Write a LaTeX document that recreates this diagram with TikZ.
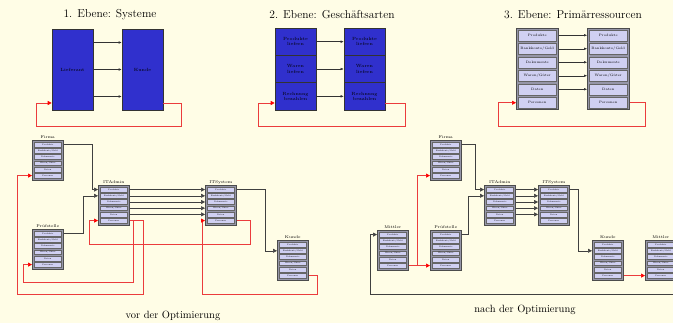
\documentclass[tikz,border=0pt]{standalone}
\usetikzlibrary{arrows.meta,calc}
\definecolor{bgc}{RGB}{255,253,230}
\definecolor{bluebox}{RGB}{48,48,205}
\definecolor{grayframe}{RGB}{150,150,168}
\definecolor{cellc}{RGB}{208,208,242}
\definecolor{redline}{RGB}{235,60,60}
\newcommand{\reslabel}[1]{\ifcase#1\or Produkte\or Bankkonto/Geld\or Dokumente\or Waren/G\"uter\or Daten\or Personen\fi}
% small object box: #1 name, #2 x, #3 y (top-left), #4 title
\newcommand{\objbox}[4]{%
  \node[objframe, anchor=north west] (#1) at (#2,#3) {};
  \node[objtitle, anchor=south] (#1-t) at (#1.north) {#4};
  \foreach \i in {1,...,6}{%
    \node[objcell] (#1-\i) at ($(#1.north)+(0,{1.5+6.2*(\i-0.5)})$) {\reslabel{\i}};
  }%
}
% level-3 resource box: #1 name, #2 x, #3 y
\newcommand{\resbox}[3]{%
  \node[resframe, anchor=north west] (#1) at (#2,#3) {};
  \foreach \i in {1,...,6}{%
    \node[rescell] (#1-\i) at ($(#1.north)+(0,{0.5+13.5*(\i-0.5)})$) {\reslabel{\i}};
  }%
}
\tikzset{
  objframe/.style={draw=black!70, fill=grayframe, minimum width=31pt, minimum height=40pt, inner sep=0pt, line width=0.5pt},
  objtitle/.style={font=\fontsize{4}{4.5}\selectfont, inner sep=0.8pt},
  objcell/.style={draw=black!60, fill=cellc, minimum width=27pt, minimum height=4.8pt, inner sep=0pt, line width=0.3pt, font=\fontsize{2}{2.2}\selectfont},
  resframe/.style={draw=black!70, fill=grayframe, minimum width=42pt, minimum height=81pt, inner sep=0pt, line width=0.5pt},
  rescell/.style={draw=black!60, fill=cellc, minimum width=38pt, minimum height=11pt, inner sep=0pt, line width=0.4pt, font=\fontsize{3.4}{4}\selectfont},
  bluecell/.style={draw=black!80, fill=bluebox, minimum width=41pt, inner sep=0pt, line width=0.6pt, align=center, font=\fontsize{4.5}{5.2}\selectfont},
  title/.style={font=\fontsize{11.5}{13}\selectfont},
  caption/.style={font=\fontsize{10.5}{12}\selectfont},
  conn/.style={draw=black!75, line width=0.5pt, -{Triangle[length=4pt,width=4pt]}},
  redconn/.style={draw=redline, line width=0.7pt, -{Triangle[length=4pt,width=4pt,fill=red,color=red]}},
  thinarrow/.style={draw=black!80, line width=0.4pt, -{Latex[length=3pt,width=2.5pt]}},
}
\begin{document}
\begin{tikzpicture}[x=1pt,y=-1pt]
\fill[bgc] (0,0) rectangle (673,323);
\useasboundingbox (0,0) rectangle (673,323);

% ---------- titles ----------
\node[title] (t1) at (110,15) {1. Ebene: Systeme};
\node[title] (t2) at (332,15) {2. Ebene: Gesch\"aftsarten};
\node[title] (t3) at (573,15) {3. Ebene: Prim\"arressourcen};

% ---------- level 1 ----------
\node[bluecell, minimum height=81pt] (L1a) at (72.5,69.5) {Lieferant};
\node[bluecell, minimum height=81pt] (L1b) at (142.5,69.5) {Kunde};
\foreach \s in {27,0,-27}{%
  \draw[thinarrow] ([yshift=\s]L1a.east) -- ([yshift=\s]L1b.west);
}
\draw[redconn] ([yshift=-33.5]L1b.east) -| (181,126) -| (36,103) -- ([yshift=-33.5]L1a.west);

% ---------- level 2 ----------
\node[bluecell, minimum height=27.33pt] (L2a1) at (295.5,41.67) {Produkte\\liefern};
\node[bluecell, minimum height=27.33pt] (L2a2) at (295.5,69) {Waren\\liefern};
\node[bluecell, minimum height=27.33pt] (L2a3) at (295.5,96.33) {Rechnung\\bezahlen};
\node[bluecell, minimum height=27.33pt] (L2b1) at (364.5,41.67) {Produkte\\liefern};
\node[bluecell, minimum height=27.33pt] (L2b2) at (364.5,69) {Waren\\liefern};
\node[bluecell, minimum height=27.33pt] (L2b3) at (364.5,96.33) {Rechnung\\bezahlen};
\foreach \i in {1,2,3}{%
  \draw[thinarrow] (L2a\i.east) -- (L2b\i.west);
}
\draw[redconn] ([yshift=-6.67]L2b3.east) -| (405,126) -| (258,103) -- ([yshift=-6.67]L2a3.west);

% ---------- level 3 ----------
\resbox{L3a}{516}{28}
\resbox{L3b}{587}{28}
\foreach \i in {1,...,5}{%
  \draw[thinarrow] (L3a.east |- L3a-\i) -- (L3b.west |- L3b-\i);
}
\draw[redconn] (L3b.east |- L3b-6) -| (645,126) -| ($(L3a.west |- L3a-6)+(-18,0)$) -- (L3a.west |- L3a-6);

% ---------- before optimisation ----------
\objbox{fL}{32}{140}{Firma}
\objbox{aL}{98}{185}{ITAdmin}
\objbox{sL}{205}{185}{ITSystem}
\objbox{pL}{32}{229}{Pr\"ufstelle}
\objbox{kL}{277}{240}{Kunde}

\draw[redconn] (aL.east |- aL-6) -| (143,294) -| ($(fL.west |- fL-6)+(-15,0)$) -- (fL.west |- fL-6);
\draw[redconn] (aL.east |- aL-6) -| (133,282) -| ($(pL.west |- pL-6)+(-9,0)$) -- (pL.west |- pL-6);
\draw[redconn] (sL.east |- sL-6) -| (250,244) -| ($(aL.west |- aL-6)+(-9,0)$) -- (aL.west |- aL-6);
\draw[redconn] (kL.east |- kL-6) -| (317,294) -| ($(sL.west |- sL-6)+(-3,0)$) -- (sL.west |- sL-6);

\draw[conn] (fL.east |- fL-1) -| ($(aL.west |- aL-1)+(-6,0)$) -- (aL.west |- aL-1);
\draw[conn] (pL.east |- pL-1) -| ($(aL.west |- aL-2)+(-15,0)$) -- (aL.west |- aL-2);
\foreach \i in {1,...,5}{%
  \draw[conn] (aL.east |- aL-\i) -- (sL.west |- sL-\i);
}
\draw[conn] (sL.east |- sL-1) -| ($(kL.west |- kL-2)+(-12,0)$) -- (kL.west |- kL-2);

\node[caption] (capL) at (173,316) {vor der Optimierung};

% ---------- after optimisation ----------
\objbox{fR}{430}{140}{Firma}
\objbox{aR}{484}{185}{ITAdmin}
\objbox{sR}{538}{185}{ITSystem}
\objbox{mR}{377}{230}{Mittler}
\objbox{pR}{430}{230}{Pr\"ufstelle}
\objbox{kR}{592}{240}{Kunde}
\objbox{xR}{645}{240}{Mittler}

\draw[redconn] (mR.east |- mR-6) -- (pR.west |- pR-6);
\draw[redconn] (mR.east |- mR-6) -| ($(fR.west |- fR-6)+(-13,0)$) -- (fR.west |- fR-6);
\draw[redconn] (kR.east |- kR-6) -- (xR.west |- xR-6);

\draw[conn] (fR.east |- fR-1) -| ($(aR.west |- aR-1)+(-9,0)$) -- (aR.west |- aR-1);
\draw[conn] (pR.east |- pR-1) -| ($(aR.west |- aR-2)+(-16,0)$) -- (aR.west |- aR-2);
\foreach \i in {1,...,5}{%
  \draw[conn] (aR.east |- aR-\i) -- (sR.west |- sR-\i);
}
\draw[conn] (sR.east |- sR-1) -| ($(kR.west |- kR-2)+(-14,0)$) -- (kR.west |- kR-2);
\draw[conn] (xR.east |- xR-1) -| (690,294) -| ($(mR.west |- mR-1)+(-7,0)$) -- (mR.west |- mR-1);

\node[caption] (capR) at (525,310) {nach der Optimierung};
\end{tikzpicture}
\end{document}
